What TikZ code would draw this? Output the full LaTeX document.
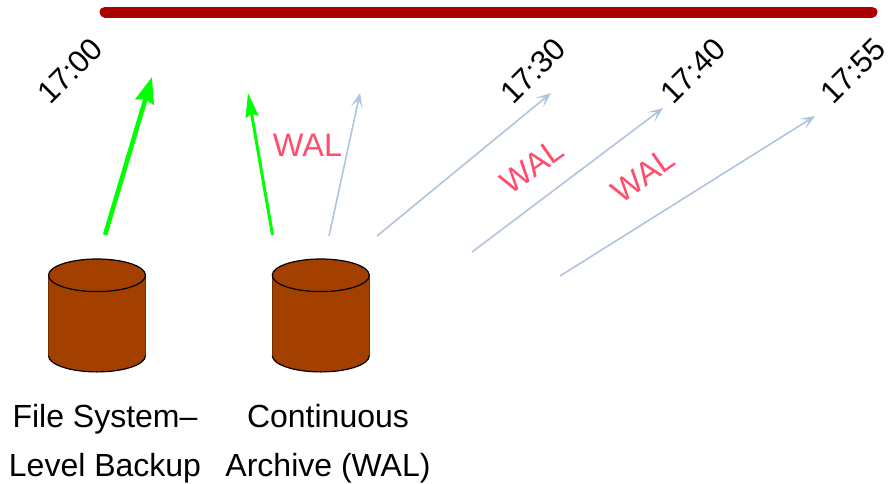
\documentclass[tikz,border=0pt]{standalone}
\usepackage{fontspec}
\setmainfont{Liberation Sans}
\usetikzlibrary{arrows.meta}
\definecolor{barred}{HTML}{AA0000}
\definecolor{walred}{HTML}{FF4D6D}
\definecolor{walblue}{HTML}{B0C4DE}
\definecolor{disk}{HTML}{A34000}
\tikzset{
  timelabel/.style={font=\fontsize{31}{36}\selectfont,text=black,rotate=45,inner sep=0pt},
  wallabel/.style={font=\fontsize{32.5}{38}\selectfont,text=walred,inner sep=0pt},
  caption/.style={font=\fontsize{32}{36}\selectfont,text=black,inner sep=0pt,anchor=base},
  greenthick/.style={draw=green,line width=4.5pt,-{Stealth[length=26pt,width=19pt,inset=3pt]}},
  greenthin/.style={draw=green,line width=3pt,-{Stealth[length=24pt,width=13pt,inset=3pt]}},
  walarrow/.style={draw=walblue,line width=1.6pt,-{Stealth[length=15pt,width=12pt,inset=8pt]}},
  bar/.style={draw=barred,line width=11pt,line cap=round},
  diskbody/.style={fill=disk,draw=none},
  diskedge/.style={draw=black,line width=1.2pt}
}
\newcommand{\diskat}[2]{%
  \fill[diskbody] (#1-48.5,#2) -- (#1-48.5,355.6) arc[x radius=48.5,y radius=16.3,start angle=180,end angle=0] -- (#1+48.5,#2) -- cycle;
  \draw[diskedge] (#1-48.5,355.6) arc[x radius=48.5,y radius=16.3,start angle=180,end angle=0];
  \draw[diskedge,draw=disk!70!black,line width=.5pt] (#1-48.5,#2) -- (#1-48.5,355.6);
  \draw[diskedge,draw=disk!70!black,line width=.5pt] (#1+48.5,#2) -- (#1+48.5,355.6);
  \draw[diskedge,fill=disk] (#1,#2) ellipse[x radius=48.5,y radius=16.3];
}
\begin{document}
\begin{tikzpicture}[x=1pt,y=-1pt]
\useasboundingbox (0,0) rectangle (888,483);
\coordinate (barL) at (105,12);
\coordinate (barR) at (872,12);
\draw[bar] (barL) -- (barR);
\node[timelabel] (t1) at (70,71) {17:00};
\node[timelabel] (t2) at (533,71) {17:30};
\node[timelabel] (t3) at (693,71) {17:40};
\node[timelabel] (t4) at (853,71) {17:55};
\coordinate (g1a) at (105,235); \coordinate (g1b) at (152,77);
\coordinate (g2a) at (272.5,235); \coordinate (g2b) at (248,93);
\coordinate (w1a) at (329,236); \coordinate (w1b) at (360,93);
\coordinate (w2a) at (377,236); \coordinate (w2b) at (551,93);
\coordinate (w3a) at (472,252); \coordinate (w3b) at (663,108);
\coordinate (w4a) at (560,276); \coordinate (w4b) at (815,116);
\draw[greenthick] (g1a) -- (g1b);
\draw[greenthin] (g2a) -- (g2b);
\draw[walarrow] (w1a) -- (w1b);
\draw[walarrow] (w2a) -- (w2b);
\draw[walarrow] (w3a) -- (w3b);
\draw[walarrow] (w4a) -- (w4b);
\node[wallabel] (wal1) at (307.5,145) {WAL};
\node[wallabel,rotate=35] (wal2) at (532,166) {WAL};
\node[wallabel,rotate=35] (wal3) at (643,175) {WAL};
\diskat{97}{275.3}
\diskat{320.8}{275.3}
\node[caption] (c1) at (105,427) {File System–};
\node[caption] (c2) at (105,476) {Level Backup};
\node[caption] (c3) at (328,427) {Continuous};
\node[caption] (c4) at (328,476) {Archive (WAL)};
\end{tikzpicture}
\end{document}
